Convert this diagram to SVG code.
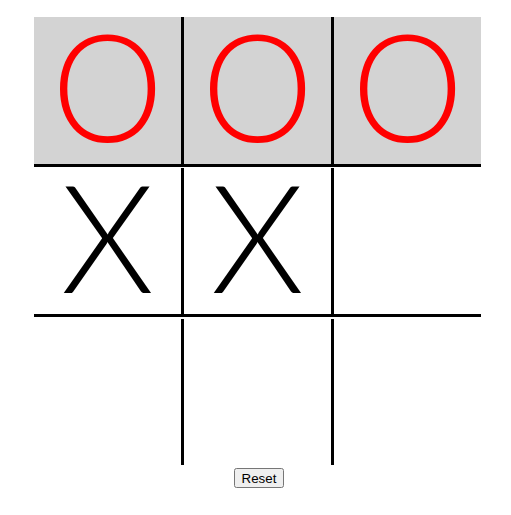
<svg xmlns="http://www.w3.org/2000/svg" width="511" height="515" viewBox="0 0 511 515">
<style>
.o { fill: #ff0000; font-family: "Lato", "Open Sans", sans-serif; font-weight: 300; font-size: 150px; text-anchor: middle; }
.x { fill: #000000; font-family: "Lato", "Open Sans", sans-serif; font-weight: 300; font-size: 150px; text-anchor: middle; }
.grid line { stroke: #000000; stroke-width: 3; }
.btn { fill: #efefef; stroke: #767676; stroke-width: 1; }
.btnt { font-family: "Liberation Sans", Arial, sans-serif; font-size: 13.33px; fill: #000000; text-anchor: middle; }
</style>
<rect width="511" height="515" fill="#ffffff"/>
<g id="cell-0"><rect x="34" y="17" width="150" height="147" fill="#d3d3d3"/><text class="o" transform="matrix(0.94 0 0 1 6.45 0)" x="107.5" y="142">O</text></g>
<g id="cell-1"><rect x="182" y="17" width="151" height="147" fill="#d3d3d3"/><text class="o" transform="matrix(0.94 0 0 1 15.45 0)" x="257.5" y="142">O</text></g>
<g id="cell-2"><rect x="332" y="17" width="149" height="147" fill="#d3d3d3"/><text class="o" transform="matrix(0.94 0 0 1 24.45 0)" x="407.5" y="142">O</text></g>
<g id="cell-3"><text class="x" x="107.5" y="293">X</text></g>
<g id="cell-4"><text class="x" x="257.5" y="293">X</text></g>
<g id="cell-5"></g>
<g id="cell-6"></g>
<g id="cell-7"></g>
<g id="cell-8"></g>
<g id="grid" class="grid">
<line x1="182.5" y1="17" x2="182.5" y2="164"/>
<line x1="332.5" y1="17" x2="332.5" y2="164"/>
<line x1="182.5" y1="168" x2="182.5" y2="314"/>
<line x1="332.5" y1="168" x2="332.5" y2="314"/>
<line x1="182.5" y1="319" x2="182.5" y2="465"/>
<line x1="332.5" y1="319" x2="332.5" y2="465"/>
<line x1="34" y1="165.5" x2="481" y2="165.5"/>
<line x1="34" y1="315.5" x2="481" y2="315.5"/>
</g>
<g id="reset-button">
<rect class="btn" x="234.5" y="468.5" width="49" height="19" rx="2"/>
<text class="btnt" x="259" y="482.5">Reset</text>
</g>
</svg>
